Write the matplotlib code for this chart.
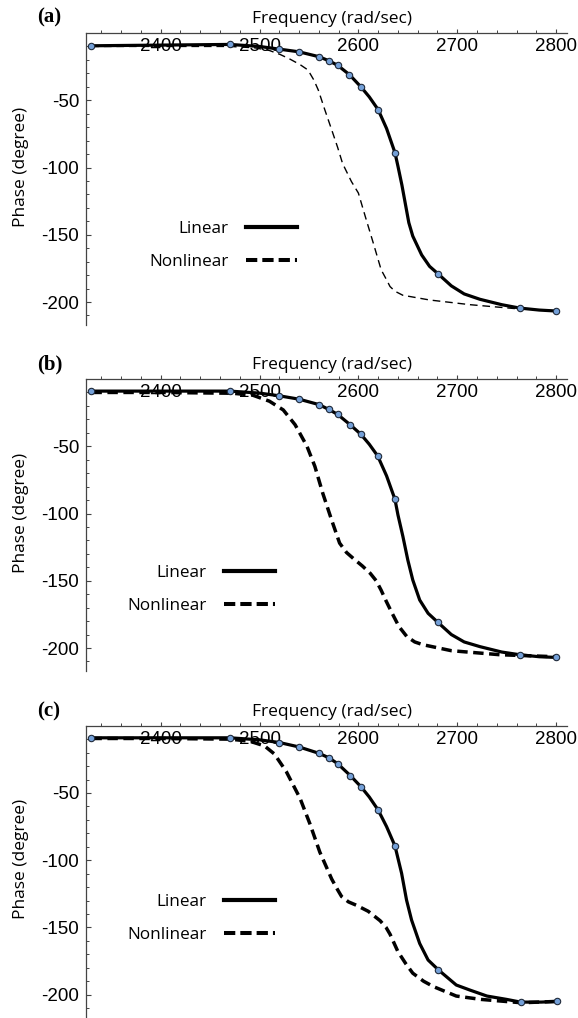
import numpy as np
import matplotlib.pyplot as plt
from matplotlib.lines import Line2D
from matplotlib.ticker import MultipleLocator, FixedLocator

plt.rcParams['axes.unicode_minus'] = False

# ---- data (frequency in rad/sec, phase in degree) ----
# linear response: marker points and extra points along the solid curve
lin_mk_f_a = [2330, 2470, 2520, 2540, 2560, 2570, 2579, 2591, 2602.5, 2620, 2637, 2680.5, 2763, 2800]
lin_mk_p_a = [-9.5, -8.5, -12, -14, -17.6, -20.6, -24, -31, -40, -57, -89, -179, -204.5, -206.7]
lin_ex_f_a = [2400, 2500, 2611, 2628.5, 2640, 2644, 2648, 2651, 2655, 2664, 2672, 2694, 2707, 2723, 2745, 2783]
lin_ex_p_a = [-9, -10, -47.5, -71, -99, -113, -129, -141, -151, -165, -173.5, -188, -194, -198, -202, -206]

lin_mk_f_b = [2330, 2470, 2520, 2540, 2560, 2570, 2579, 2592, 2602.5, 2619.5, 2637, 2680.5, 2763, 2800]
lin_mk_p_b = [-9, -9, -12.5, -15, -19, -22.6, -26.3, -34.2, -41.1, -57.2, -89.5, -181, -205, -207]
lin_ex_f_b = [2400, 2500, 2611, 2628.5, 2640, 2645, 2650, 2655, 2662, 2670.5, 2694, 2707, 2723, 2745, 2783]
lin_ex_p_b = [-9, -10.5, -48.5, -72, -101, -117, -134.6, -149.4, -164.3, -174.2, -190, -195.5, -199, -203, -206.5]

lin_mk_f_c = [2330, 2470, 2520, 2540, 2560, 2570, 2579, 2592, 2602.5, 2620, 2637, 2681, 2764, 2801]
lin_mk_p_c = [-9, -9, -12.5, -15.8, -20.5, -23.8, -28.2, -37.2, -45.3, -62.7, -89.4, -181.6, -205.5, -205]
lin_ex_f_c = [2400, 2500, 2611, 2628.5, 2643.7, 2648.7, 2653.8, 2662, 2670.5, 2699, 2712.6, 2730, 2750, 2785]
lin_ex_p_c = [-9, -10.5, -53, -75, -109.7, -129.6, -144.5, -161.9, -174.2, -192.8, -196.5, -201, -203.5, -205.5]

# nonlinear response (dashed)
nl_f_a = [2330, 2400, 2470, 2495, 2510, 2521, 2531, 2541, 2548, 2551, 2555, 2559.5, 2566, 2573, 2579,
          2584, 2593, 2600, 2607, 2615, 2623, 2628.5, 2632, 2637, 2645, 2672, 2713, 2760, 2800]
nl_p_a = [-10, -10, -10, -11, -13, -16, -19.5, -23.5, -27, -30, -35, -42.5, -57, -72, -85,
          -97, -110.5, -119, -136.5, -156, -176, -183.5, -188.5, -192, -195, -198.5, -202, -205, -206.5]

nl_f_b = [2330, 2400, 2473, 2493, 2510, 2524, 2536, 2548, 2556, 2564, 2573, 2581, 2588, 2595, 2604,
          2612, 2618, 2623, 2628, 2634, 2641, 2649, 2657, 2665, 2694, 2743, 2800]
nl_p_b = [-10, -10, -10.6, -12, -16.5, -23, -34, -50, -65, -85, -105, -122, -129, -133.5, -139,
          -144.5, -150, -157, -165, -174, -184, -191.5, -195.5, -197.5, -202, -205, -206.5]

nl_f_c = [2330, 2400, 2470, 2490, 2505, 2515, 2527, 2541, 2551, 2561, 2573, 2579, 2583, 2590, 2598,
          2610, 2622, 2628, 2632, 2640, 2648, 2655, 2666, 2676, 2699, 2724, 2765, 2800]
nl_p_c = [-9.5, -9.5, -10, -11.5, -15, -21, -34, -54, -73, -94, -114, -122, -127, -131, -133.5,
          -138, -145, -150, -155, -168, -177, -184, -190, -194, -201, -203.5, -206, -205]

panel_labels = ['(a)', '(b)', '(c)']
x_major = [2400, 2500, 2600, 2700, 2800]
y_major = [-50, -100, -150, -200]

panels = [
    (lin_mk_f_a, lin_mk_p_a, lin_ex_f_a, lin_ex_p_a, nl_f_a, nl_p_a),
    (lin_mk_f_b, lin_mk_p_b, lin_ex_f_b, lin_ex_p_b, nl_f_b, nl_p_b),
    (lin_mk_f_c, lin_mk_p_c, lin_ex_f_c, lin_ex_p_c, nl_f_c, nl_p_c),
]

W, H = 578, 1018
fig = plt.figure(figsize=(W / 100, H / 100), dpi=100)

axis_top_px = [33, 379, 725.7]
label_base_px = [22, 369, 716]
legend_anchor = [(0.4387, 0.272), (0.393, 0.279), (0.393, 0.34)]
axis_col = '#444444'
label_font = 'Open Sans'
tick_font = 'Liberation Sans'

for i, (mf, mp, ef, ep, nf, npp) in enumerate(panels):
    top = 1 - axis_top_px[i] / H
    hgt = 292 / H
    ax = fig.add_axes([86 / W, top - hgt, 481 / W, hgt])

    # solid curve goes through markers and extra read points
    cf = np.concatenate([mf, ef])
    cp = np.concatenate([mp, ep])
    order = np.argsort(cf)

    if i == 0:
        ax.plot(nf, npp, color='black', lw=1.0, dashes=(5.5, 3.5), zorder=3)
    else:
        ax.plot(nf, npp, color='black', lw=2.5, dashes=(3, 1.6), zorder=3)
    ax.plot(cf[order], cp[order], color='black', lw=2.3, zorder=4,
            solid_joinstyle='round')
    ax.plot(mf, mp, linestyle='none', marker='o', ms=4.6,
            mfc='#74a0d8', mec='#1f2a3a', mew=0.8, zorder=5)

    ax.set_xlim(2324.5, 2811)
    ax.set_ylim(-217.1, 0)

    for s in ['right', 'bottom']:
        ax.spines[s].set_visible(False)
    for s in ['left', 'top']:
        ax.spines[s].set_color(axis_col)
        ax.spines[s].set_linewidth(0.9)

    ax.xaxis.set_major_locator(FixedLocator(x_major))
    ax.xaxis.set_minor_locator(MultipleLocator(20))
    ax.yaxis.set_major_locator(FixedLocator(y_major))
    ax.yaxis.set_minor_locator(MultipleLocator(10))

    ax.tick_params(axis='x', which='both', top=True, bottom=False,
                   labeltop=True, labelbottom=False, direction='out',
                   color=axis_col, pad=-19.2)
    ax.tick_params(axis='x', which='major', length=3.2, width=0.8)
    ax.tick_params(axis='x', which='minor', length=2.0, width=0.7)
    ax.tick_params(axis='y', which='both', left=True, right=False,
                   direction='in', color=axis_col, pad=5)
    ax.tick_params(axis='y', which='major', length=3.4, width=0.8)
    ax.tick_params(axis='y', which='minor', length=2.0, width=0.7)
    for lab in ax.get_xticklabels() + ax.get_yticklabels():
        lab.set_fontfamily(tick_font)
        lab.set_fontsize(13.5)

    ax.set_xlabel('Frequency (rad/sec)', fontfamily=label_font, fontsize=12.5)
    ax.xaxis.set_label_position('top')
    ax.xaxis.set_label_coords(0.511, 1.034)
    ax.set_ylabel('Phase (degree)', fontfamily=label_font, fontsize=12.5)
    ax.yaxis.set_label_coords(-0.118, 0.542)

    handles = [Line2D([], [], color='black', lw=3.0),
               Line2D([], [], color='black', lw=2.9, dashes=(2.8, 1.25))]
    ax.legend(handles, ['Linear', 'Nonlinear'], loc='center right',
              bbox_to_anchor=legend_anchor[i], markerfirst=False, frameon=False,
              borderpad=0, borderaxespad=0, handlelength=3.0, handletextpad=1.0,
              labelspacing=1.0, prop={'family': label_font, 'size': 12.3})

    fig.text(37 / W, 1 - label_base_px[i] / H, panel_labels[i],
             fontfamily='Liberation Serif', fontweight='bold', fontsize=15,
             ha='left', va='baseline')

fig.savefig('out.png', dpi=100)
